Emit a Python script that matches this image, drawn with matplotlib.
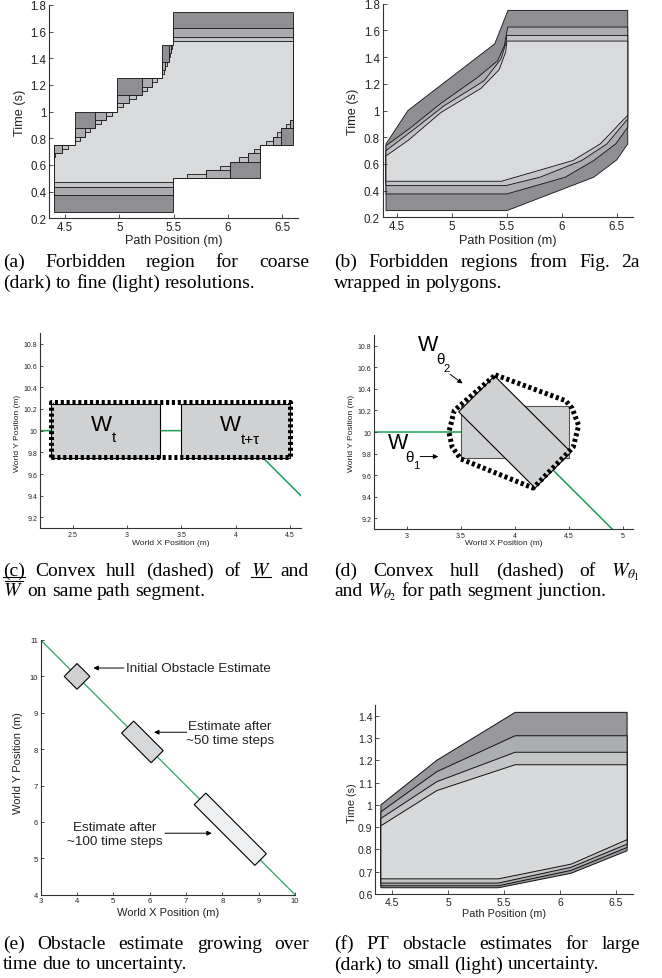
import matplotlib
matplotlib.use('Agg')
import matplotlib.pyplot as plt
from matplotlib.patches import Polygon, Rectangle
from matplotlib.lines import Line2D
from matplotlib.ticker import FuncFormatter

plt.rcParams['font.family'] = ['Liberation Sans', 'DejaVu Sans']
plt.rcParams['mathtext.fontset'] = 'stix'

# ---------------- data ----------------
# (a) forbidden region, staircase per resolution (0.25, 0.125, 0.0625, 0.03125)
a_up_x = [[4.4, 4.59, 4.98, 5.39, 5.49, 6.6],
          [4.4, 4.59, 4.78, 4.98, 5.21, 5.39, 5.455, 5.49, 6.6],
          [4.4, 4.47, 4.59, 4.685, 4.78, 4.88, 4.98, 5.09, 5.21, 5.30, 5.39, 5.425, 5.455, 5.472, 5.49, 6.6],
          [4.4, 4.41, 4.47, 4.53, 4.59, 4.637, 4.685, 4.732, 4.78, 4.83, 4.88, 4.93, 4.98, 5.035, 5.09,
           5.15, 5.21, 5.255, 5.30, 5.345, 5.39, 5.408, 5.425, 5.44, 5.455, 5.464, 5.472, 5.481, 5.49, 6.6]]
a_up_t = [[0.75, 1.0, 1.25, 1.5, 1.75],
          [0.75, 0.875, 1.0, 1.125, 1.25, 1.375, 1.5, 1.625],
          [0.6875, 0.75, 0.8125, 0.875, 0.9375, 1.0, 1.0625, 1.125, 1.1875, 1.25, 1.3125, 1.375, 1.4375, 1.5, 1.5625],
          [0.65625, 0.6875, 0.71875, 0.75, 0.78125, 0.8125, 0.84375, 0.875, 0.90625, 0.9375, 0.96875, 1.0,
           1.03125, 1.0625, 1.09375, 1.125, 1.15625, 1.1875, 1.21875, 1.25, 1.28125, 1.3125, 1.34375, 1.375,
           1.40625, 1.4375, 1.46875, 1.5, 1.53125]]
a_lo_x = [[4.4, 5.49, 6.29, 6.6],
          [4.4, 5.49, 6.02, 6.29, 6.49, 6.6],
          [4.4, 5.49, 5.80, 6.02, 6.18, 6.29, 6.41, 6.49, 6.57, 6.6],
          [4.4, 5.49, 5.62, 5.80, 5.93, 6.02, 6.10, 6.18, 6.24, 6.29, 6.35, 6.41, 6.45, 6.49, 6.53, 6.57, 6.6]]
a_lo_t = [[0.25, 0.5, 0.75],
          [0.375, 0.5, 0.625, 0.75, 0.875],
          [0.4375, 0.5, 0.5625, 0.625, 0.6875, 0.75, 0.8125, 0.875, 0.9375],
          [0.46875, 0.5, 0.53125, 0.5625, 0.59375, 0.625, 0.65625, 0.6875, 0.71875, 0.75, 0.78125,
           0.8125, 0.84375, 0.875, 0.90625, 0.9375]]

# (b) polygons wrapping the levels
b_x = [[4.4, 4.4, 4.6, 5.39, 5.51, 6.6, 6.6, 6.5, 6.29, 5.5],
       [4.4, 4.4, 4.628, 4.9, 5.234, 5.416, 5.477, 5.508, 6.6, 6.6, 6.49, 6.29, 6.03, 5.5],
       [4.4, 4.4, 4.658, 4.93, 5.294, 5.446, 5.49, 5.5, 6.6, 6.6, 6.41, 6.18, 5.80, 5.49],
       [4.4, 4.4, 4.6, 4.9, 5.265, 5.43, 5.49, 5.5, 6.6, 6.6, 6.35, 6.1, 5.45]]
b_t = [[0.25, 0.75, 1.0, 1.5, 1.75, 1.75, 0.75, 0.63, 0.5, 0.25],
       [0.375, 0.736, 0.874, 1.054, 1.248, 1.373, 1.485, 1.625, 1.625, 0.875, 0.75, 0.625, 0.5, 0.375],
       [0.4375, 0.699, 0.861, 1.036, 1.223, 1.386, 1.5, 1.5625, 1.5625, 0.9375, 0.75, 0.625, 0.5, 0.4375],
       [0.47, 0.66, 0.775, 0.985, 1.166, 1.306, 1.44, 1.52, 1.52, 0.965, 0.75, 0.625, 0.47]]

level_colors = ['#8f8f93', '#abacaf', '#c3c4c7', '#d9dadc']

# (c) obstacle boxes on one segment
c_box_cx = [2.8, 4.0]
c_box_cy = [10.0, 10.0]
c_box_len = [1.0, 1.0]
c_box_wid = [0.5, 0.5]
c_hull_x = [2.297, 4.503, 4.503, 2.297, 2.297]
c_hull_y = [9.757, 9.757, 10.263, 10.263, 9.757]
cd_path_x = [2.0, 4.0, 5.2]
cd_path_y = [10.0, 10.0, 8.8]

# (d) boxes at the junction
d_box_cx = [4.0, 4.0]
d_box_cy = [10.0, 10.0]
d_box_len = [1.0, 1.0]
d_box_wid = [0.49, 0.47]
d_box_ang = [0, -45]
d_hull_x = [3.82, 4.47, 4.53, 4.59, 4.54, 4.17, 3.50, 3.42, 3.39, 3.44, 3.82]
d_hull_y = [10.53, 10.29, 10.22, 10.06, 9.86, 9.48, 9.75, 9.86, 10.0, 10.2, 10.53]

# (e) estimate growth
e_path_x = [3, 10]
e_path_y = [11, 4]
e_box_cx = [4.0, 5.8, 8.22]
e_box_cy = [10.0, 8.2, 5.8]
e_box_len = [0.5, 1.15, 2.36]
e_box_wid = [0.5, 0.47, 0.45]
e_box_col = ['#cfd0d2', '#d6d7d9', '#eeeff0']
e_labels = ['Initial Obstacle Estimate', 'Estimate after\n~50 time steps', 'Estimate after\n~100 time steps']
e_label_xy = [(5.35, 10.23), (8.21, 8.44), (5.04, 5.67)]
e_arrow_tail = [(5.29, 10.23), (7.02, 8.465), (6.42, 5.69)]
e_arrow_head = [(4.45, 10.23), (6.12, 8.465), (7.71, 5.69)]

# (f) PT obstacle estimates
f_up_x = [4.4, 4.9, 5.6, 6.6]
f_up_t = [[1.0, 1.2, 1.415, 1.415],
          [0.969, 1.149, 1.31, 1.31],
          [0.939, 1.104, 1.236, 1.236],
          [0.906, 1.064, 1.18, 1.18]]
f_lo_x = [4.4, 5.45, 6.1, 6.6]
f_lo_t = [[0.628, 0.628, 0.693, 0.794],
          [0.637, 0.637, 0.706, 0.809],
          [0.649, 0.649, 0.72, 0.824],
          [0.668, 0.668, 0.734, 0.844]]
f_colors = ['#98989c', '#acadb0', '#c4c5c7', '#d8d9db']

# caption lines; words listed in the last two fields get an underline / overline
captions = [
    (3, 309, 267, ["(a) Forbidden region for coarse", "(dark) to fine (light) resolutions."], (), ()),
    (334, 640, 267, ["(b) Forbidden regions from Fig. 2a", "wrapped in polygons."], (), ()),
    (3, 309, 576, ["(c) Convex hull (dashed) of $W$ and", "$W$  on same path segment."], ('(c)', '$W$'), ('$W$',)),
    (334, 640, 576, [r"(d) Convex hull (dashed) of $W_{\theta_1}$", r"and $W_{\theta_2}$ for path segment junction."], (), ()),
    (3, 309, 949, ["(e) Obstacle estimate growing over", "time due to uncertainty."], (), ()),
    (334, 640, 949, ["(f) PT obstacle estimates for large", "(dark) to small (light) uncertainty."], (), ()),
]

# ---------------- figure ----------------
W, H = 662, 979
fig = plt.figure(figsize=(W / 100, H / 100), dpi=100)
GREEN = '#1a9f55'


def rect(l, t, r, b):
    return [l / W, 1 - b / H, (r - l) / W, (b - t) / H]


def style(ax, xl, yl, xt, yt, tfs, lfs, xlab, ylab, xl_y, yl_x, yl_y=0.5, tlen=3):
    ax.set_xlim(xl)
    ax.set_ylim(yl)
    ax.set_xticks(xt)
    ax.set_yticks(yt)
    fmt = FuncFormatter(lambda v, p: f'{round(v, 6):g}')
    ax.xaxis.set_major_formatter(fmt)
    ax.yaxis.set_major_formatter(fmt)
    for s in ('top', 'right'):
        ax.spines[s].set_visible(False)
    for s in ('left', 'bottom'):
        ax.spines[s].set_linewidth(0.8)
        ax.spines[s].set_color('#333333')
    ax.tick_params(direction='in', length=tlen, width=0.6, labelsize=tfs, pad=2,
                   colors='#333333', labelcolor='#222222')
    ax.set_xlabel(xlab, fontsize=lfs, color='#222222', va='center')
    ax.set_ylabel(ylab, fontsize=lfs, color='#222222', va='center')
    ax.xaxis.set_label_coords(0.5, xl_y)
    ax.yaxis.set_label_coords(yl_x, yl_y)


def stair(ux, ut, lx, lt):
    pts = []
    for i, t in enumerate(ut):
        pts += [(ux[i], t), (ux[i + 1], t)]
    for i in range(len(lt) - 1, -1, -1):
        pts += [(lx[i + 1], lt[i]), (lx[i], lt[i])]
    return pts


# (a)
ax = fig.add_axes(rect(49.3, 6, 298.3, 219.3))
for k in range(4):
    ax.add_patch(Polygon(stair(a_up_x[k], a_up_t[k], a_lo_x[k], a_lo_t[k]), closed=True,
                         facecolor=level_colors[k], edgecolor='#111111', lw=0.6))
style(ax, (4.357, 6.646), (0.2, 1.8), [4.5, 5, 5.5, 6, 6.5], [0.2, 0.4, 0.6, 0.8, 1, 1.2, 1.4, 1.6, 1.8],
      8.3, 9.2, 'Path Position (m)', 'Time (s)', -0.1, -0.118)

# (b)
ax = fig.add_axes(rect(382.7, 4.7, 632.7, 218.3))
for k in range(4):
    ax.add_patch(Polygon(list(zip(b_x[k], b_t[k])), closed=True,
                         facecolor=level_colors[k], edgecolor='#111111', lw=0.6))
style(ax, (4.37, 6.645), (0.2, 1.8), [4.5, 5, 5.5, 6, 6.5], [0.2, 0.4, 0.6, 0.8, 1, 1.2, 1.4, 1.6, 1.8],
      8.3, 9.2, 'Path Position (m)', 'Time (s)', -0.104, -0.12)

hull_kw = dict(color='k', lw=3.6, dashes=(0.62, 0.55), solid_capstyle='butt',
               dash_capstyle='butt', zorder=4)

# (c)
ax = fig.add_axes(rect(40, 334, 301, 529.3))
ax.plot(cd_path_x, cd_path_y, color=GREEN, lw=1.1, zorder=1)
for cx, cy, ln, wd in zip(c_box_cx, c_box_cy, c_box_len, c_box_wid):
    ax.add_patch(Rectangle((cx - ln / 2, cy - wd / 2), ln, wd, facecolor='#d0d1d3',
                           edgecolor='k', lw=0.8, zorder=2))
ax.plot(c_hull_x, c_hull_y, **hull_kw)
ax.text(2.767, 10.055, 'W', fontsize=16, ha='center', va='center', zorder=5)
ax.text(2.862, 9.94, 't', fontsize=11, ha='left', va='center', zorder=5)
ax.text(3.955, 10.055, 'W', fontsize=16, ha='center', va='center', zorder=5)
ax.text(4.05, 9.92, 't+τ', fontsize=11, ha='left', va='center', zorder=5)
style(ax, (2.2, 4.6), (9.1, 10.9), [2.5, 3, 3.5, 4, 4.5], [9.2, 9.4, 9.6, 9.8, 10, 10.2, 10.4, 10.6, 10.8],
      5, 6, 'World X Position (m)', 'World Y Position (m)', -0.072, -0.087, 0.493, tlen=2)

# (d)
ax = fig.add_axes(rect(374.3, 336, 632.7, 530))
ax.plot(cd_path_x, cd_path_y, color=GREEN, lw=1.1, zorder=1)
for cx, cy, ln, wd, ang, ec in zip(d_box_cx, d_box_cy, d_box_len, d_box_wid, d_box_ang, ['#555555', 'k']):
    ax.add_patch(Rectangle((cx - ln / 2, cy - wd / 2), ln, wd, angle=ang, rotation_point='center',
                           facecolor='#d0d1d3', edgecolor=ec, lw=0.8, zorder=2))
ax.plot(d_hull_x, d_hull_y, **hull_kw)
ax.text(3.193, 10.81, 'W', fontsize=15.5, ha='center', va='center')
ax.text(3.31, 10.68, 'θ', fontsize=11, ha='center', va='center')
ax.text(3.37, 10.595, '2', fontsize=8, ha='center', va='center')
ax.text(2.916, 9.898, 'W', fontsize=15.5, ha='center', va='center')
ax.text(3.025, 9.77, 'θ', fontsize=11, ha='center', va='center')
ax.text(3.092, 9.695, '1', fontsize=8, ha='center', va='center')
arr = dict(arrowstyle='-|>', color='k', lw=0.7, mutation_scale=7, shrinkA=0, shrinkB=0)
ax.annotate('', xy=(3.517, 10.45), xytext=(3.402, 10.535), arrowprops=arr)
ax.annotate('', xy=(3.292, 9.772), xytext=(3.125, 9.772), arrowprops=arr)
style(ax, (2.7, 5.09), (9.1, 10.9), [3, 3.5, 4, 4.5, 5], [9.2, 9.4, 9.6, 9.8, 10, 10.2, 10.4, 10.6, 10.8],
      5, 6, 'World X Position (m)', 'World Y Position (m)', -0.069, -0.09, 0.5, tlen=2)

# (e)
ax = fig.add_axes(rect(40.7, 641, 295, 895.7))
ax.plot(e_path_x, e_path_y, color='#2aa866', lw=0.9, zorder=1)
for cx, cy, ln, wd, fc in zip(e_box_cx, e_box_cy, e_box_len, e_box_wid, e_box_col):
    ax.add_patch(Rectangle((cx - ln / 2, cy - wd / 2), ln, wd, angle=-45, rotation_point='center',
                           facecolor=fc, edgecolor='k', lw=0.8, zorder=2))
for lab, (lx, ly), tail, head in zip(e_labels, e_label_xy, e_arrow_tail, e_arrow_head):
    ha = 'left' if lab.startswith('Initial') else 'center'
    ax.text(lx, ly, lab, fontsize=9.7, ha=ha, va='center', linespacing=1.15, color='#222222')
    ax.annotate('', xy=head, xytext=tail, arrowprops=arr)
style(ax, (3, 10), (4, 11), [3, 4, 5, 6, 7, 8, 9, 10], [4, 5, 6, 7, 8, 9, 10, 11],
      5.5, 8, 'World X Position (m)', 'World Y Position (m)', -0.069, -0.088, 0.52, tlen=2.5)

# (f)
ax = fig.add_axes(rect(375.3, 706, 632.7, 895))
for k in range(4):
    pts = list(zip(f_up_x, f_up_t[k])) + list(zip(f_lo_x[::-1], f_lo_t[k][::-1]))
    ax.add_patch(Polygon(pts, closed=True, facecolor=f_colors[k], edgecolor='#111111', lw=0.7))
style(ax, (4.35, 6.65), (0.6, 1.448), [4.5, 5, 5.5, 6, 6.5], [0.6, 0.7, 0.8, 0.9, 1, 1.1, 1.2, 1.3, 1.4],
      7.5, 7.8, 'Path Position (m)', 'Time (s)', -0.1, -0.092, 0.485)

# ---------------- captions (justified) ----------------
SERIF = ['Liberation Serif', 'DejaVu Serif']
CAP_FS = 14.0
renderer = fig.canvas.get_renderer()


def hbar(x0, x1, y):
    fig.add_artist(Line2D([x0 / W, x1 / W], [1 - y / H] * 2, color='k', lw=0.8))


def cap_line(text, x0, x1, y, justify, under, over):
    words = [w for w in text.split(' ') if w]
    ts = [fig.text(0, 1 - y / H, w, fontsize=CAP_FS, family=SERIF, va='baseline', ha='left')
          for w in words]
    ws = [t.get_window_extent(renderer).width for t in ts]
    gap = (x1 - x0 - sum(ws)) / (len(ws) - 1) if justify else CAP_FS * 100 / 72 * 0.25
    x = x0
    for t, w, word in zip(ts, ws, words):
        t.set_x(x / W)
        if word in under:
            hbar(x, x + w, y + 2)
        if word in over:
            hbar(x + 2, x + w, y - 15)
        x += w + gap


for x0, x1, y, lines, under, over in captions:
    cap_line(lines[0], x0, x1, y, True, under, ())
    cap_line(lines[1], x0, x1, y + 20.5, False, (), over)

fig.savefig('out.png', dpi=100)
